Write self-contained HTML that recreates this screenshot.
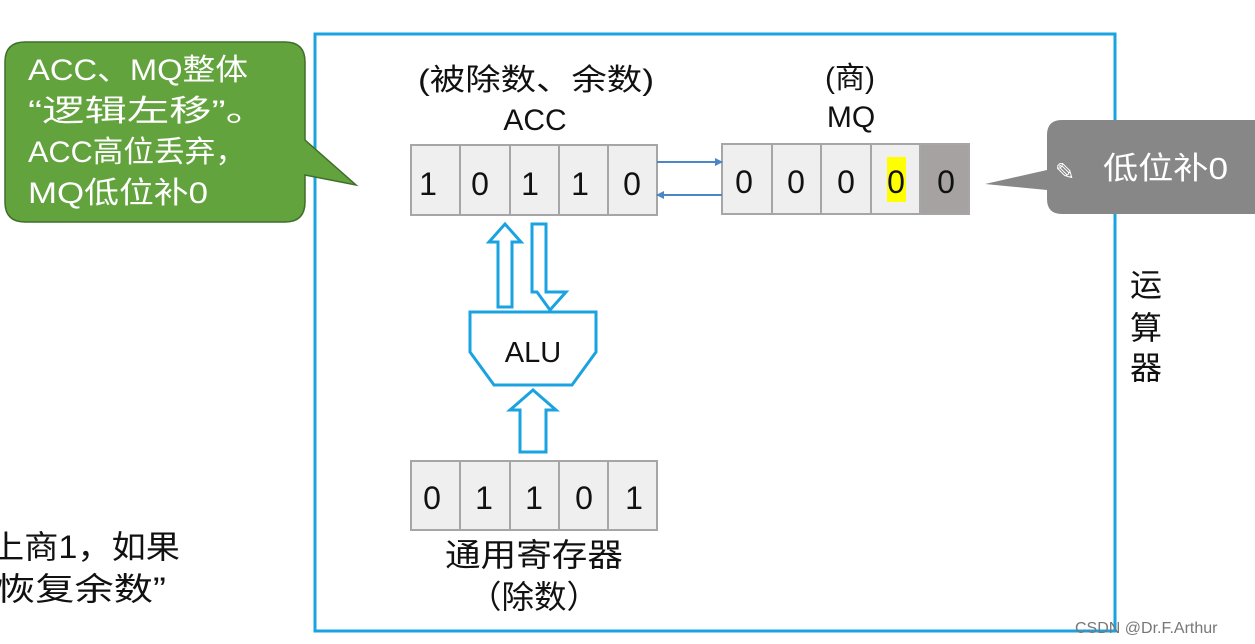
<!DOCTYPE html>
<html><head><meta charset="utf-8"><style>
html,body{margin:0;padding:0;background:#fff;}
svg{display:block;font-family:"Liberation Sans","Noto Sans CJK SC",sans-serif;}
</style></head><body>
<svg width="1255" height="644" viewBox="0 0 1255 644" xmlns="http://www.w3.org/2000/svg">
<defs>
<marker id="ah" markerWidth="8" markerHeight="8" refX="7" refY="4" orient="auto" markerUnits="userSpaceOnUse"><path d="M0,0 L8,4 L0,8 z" fill="#4a86c8"/></marker>
</defs>
<rect x="315" y="34" width="800" height="597" fill="none" stroke="#1aa3e0" stroke-width="3"/>
<path d="M25,42 H285 Q305,42 305,62 V140 L356,185 L305,175 V202 Q305,222 285,222 H25 Q5,222 5,202 V62 Q5,42 25,42 Z" fill="#62a33d" stroke="#3f6e2a" stroke-width="1.5"/>
<g fill="#fff" font-size="30">
<text x="28" y="80" textLength="220" lengthAdjust="spacingAndGlyphs">ACC、MQ整体</text>
<text x="28" y="121" textLength="240" lengthAdjust="spacingAndGlyphs">“逻辑左移”。</text>
<text x="28" y="162" textLength="218" lengthAdjust="spacingAndGlyphs">ACC高位丢弃，</text>
<text x="28" y="203" textLength="180" lengthAdjust="spacingAndGlyphs">MQ低位补0</text>
</g>
<path d="M1062,120 H1255 V214 H1062 Q1047,214 1047,199 V190 L985,184 L1047,170 V135 Q1047,120 1062,120 Z" fill="#878787"/>
<text x="1055" y="180" fill="#fff" font-size="24">✎</text>
<text x="1103" y="179" fill="#fff" font-size="31" textLength="125" lengthAdjust="spacingAndGlyphs">低位补0</text>
<g font-size="30" text-anchor="middle" fill="#111">
<text x="536" y="90" textLength="236" lengthAdjust="spacingAndGlyphs">(被除数、余数)</text>
<text x="535" y="130">ACC</text>
<text x="850" y="88">(商)</text>
<text x="851" y="127">MQ</text>
</g>
<g stroke="#a6a6a6" stroke-width="2" fill="#efefef">
<rect x="411" y="145" width="49" height="70"/><rect x="460" y="145" width="50" height="70"/><rect x="510" y="145" width="49" height="70"/><rect x="559" y="145" width="49" height="70"/><rect x="608" y="145" width="49" height="70"/>
<rect x="722" y="144" width="50" height="70"/><rect x="772" y="144" width="49" height="70"/><rect x="821" y="144" width="50" height="70"/><rect x="871" y="144" width="49" height="70"/><rect x="920" y="144" width="49" height="70" fill="#a6a2a2"/>
<rect x="411" y="461" width="49" height="69"/><rect x="460" y="461" width="50" height="69"/><rect x="510" y="461" width="49" height="69"/><rect x="559" y="461" width="49" height="69"/><rect x="608" y="461" width="49" height="69"/>
</g>
<rect x="887" y="157" width="19" height="45" fill="#ffff00"/>
<g font-size="32" text-anchor="middle" fill="#111">
<text x="428" y="195">1</text><text x="480" y="195">0</text><text x="530" y="195">1</text><text x="580" y="195">1</text><text x="632" y="195">0</text>
<text x="744" y="193">0</text><text x="796" y="193">0</text><text x="846" y="193">0</text><text x="896" y="193">0</text><text x="946" y="193">0</text>
<text x="432" y="509">0</text><text x="484" y="509">1</text><text x="534" y="509">1</text><text x="584" y="509">0</text><text x="634" y="509">1</text>
</g>
<line x1="657" y1="162" x2="722" y2="162" stroke="#4a86c8" stroke-width="2" marker-end="url(#ah)"/>
<line x1="722" y1="195" x2="657" y2="195" stroke="#4a86c8" stroke-width="2" marker-end="url(#ah)"/>
<g fill="#fff" stroke="#1aa3e0" stroke-width="3">
<path d="M498,307 V242 H489 L505,224 L521,242 H512 V307 Z"/>
<path d="M532,224 H546 V292 H566 L550,310 L537,292 H532 Z" transform="translate(0,0)"/>
<path d="M520,452 V410 H510 L533,390 L556,410 H546 V452 Z"/>
<path d="M470,312 H596 V352 L572,385 H494 L470,352 Z"/>
</g>
<text x="533" y="362" font-size="29" text-anchor="middle" fill="#111">ALU</text>
<g font-size="32" text-anchor="middle" fill="#111">
<text x="534" y="566" textLength="178" lengthAdjust="spacingAndGlyphs">通用寄存器</text>
<text x="534" y="608" textLength="130" lengthAdjust="spacingAndGlyphs">（除数）</text>
</g>
<g font-size="32" fill="#111">
<text x="1130" y="296">运</text><text x="1130" y="339">算</text><text x="1130" y="379">器</text>
<text x="-10" y="558" textLength="190" lengthAdjust="spacingAndGlyphs">上商1，如果</text>
<text x="-4" y="600" textLength="170" lengthAdjust="spacingAndGlyphs">恢复余数”</text>
</g>
<text x="1075" y="633" font-size="16" fill="#777">CSDN @Dr.F.Arthur</text>
</svg>
</body></html>
